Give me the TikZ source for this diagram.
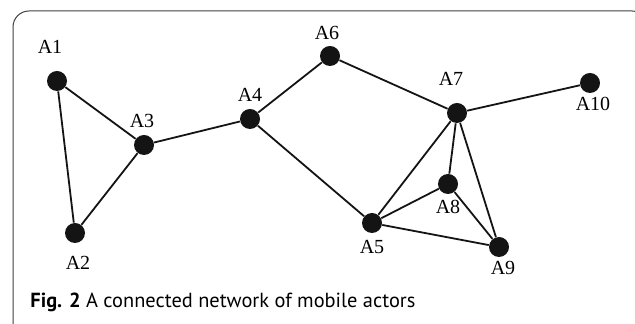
\documentclass[tikz,border=0pt]{standalone}
\usepackage{fontspec}
\setmainfont{Liberation Serif}
\newfontfamily\capfont{PT Sans}
\usetikzlibrary{positioning}

\begin{document}
\begin{tikzpicture}[
    x=0.5pt, y=-0.5pt,
    actor/.style={circle, fill=black!92, minimum size=10pt, inner sep=0pt},
    link/.style={line width=0.9pt, black!92},
    every label/.style={font=\fontsize{10}{12}\selectfont, inner sep=0.3333em}
]

\clip (0,0) rectangle (635,324);
\fill[white] (0,0) rectangle (635,324);

% outer frame
\draw[black!75, line width=0.5pt, rounded corners=8pt]
    (13,340) -- (13,11) -- (648,11) -- (648,340);

% actors
\node[actor, label={[label distance=5pt, xshift=-3.5pt]above:A1}] (A1) at (57,81) {};
\node[actor, label={[label distance=3pt, xshift=1.5pt]below:A2}] (A2) at (75,233) {};
\node[actor, label={[label distance=0pt, xshift=-1pt]above:A3}] (A3) at (144,145) {};
\node[actor, label={[label distance=0pt]above:A4}] (A4) at (250,119) {};
\node[actor, label={[label distance=0pt]below:A5}] (A5) at (372,223) {};
\node[actor, label={[label distance=-0.5pt, xshift=-1.5pt]above:A6}] (A6) at (330,56) {};
\node[actor, label={[label distance=5pt, xshift=-3pt]above:A7}] (A7) at (457,113) {};
\node[actor, label={[label distance=-0.5pt]below:A8}] (A8) at (448,184) {};
\node[actor, label={[label distance=-1.5pt, xshift=2pt]below:A9}] (A9) at (499,247) {};
\node[actor, label={[label distance=-1.5pt, xshift=1.5pt]below:A10}] (A10) at (590,83) {};

% links
\draw[link] (A1) -- (A3);
\draw[link] (A1) -- (A2);
\draw[link] (A2) -- (A3);
\draw[link] (A3) -- (A4);
\draw[link] (A4) -- (A6);
\draw[link] (A4) -- (A5);
\draw[link] (A6) -- (A7);
\draw[link] (A7) -- (A10);
\draw[link] (A7) -- (A5);
\draw[link] (A7) -- (A8);
\draw[link] (A7) -- (A9);
\draw[link] (A5) -- (A8);
\draw[link] (A5) -- (A9);
\draw[link] (A8) -- (A9);

% caption
\node[anchor=base west, inner sep=0pt, font=\capfont\fontsize{10.2}{12}\selectfont]
    (cap) at (30,308) {\textbf{Fig. 2} A connected network of mobile actors};

\end{tikzpicture}
\end{document}
